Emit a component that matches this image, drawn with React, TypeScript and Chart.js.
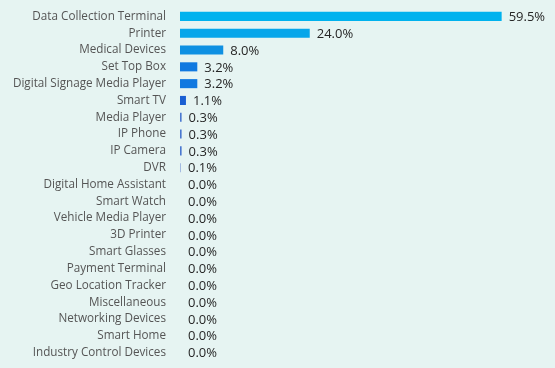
import React, { useEffect, useRef } from "react";
import { Chart, registerables } from "chart.js";

Chart.register(...registerables);

const categories = [
  "Data Collection Terminal",
  "Printer",
  "Medical Devices",
  "Set Top Box",
  "Digital Signage Media Player",
  "Smart TV",
  "Media Player",
  "IP Phone",
  "IP Camera",
  "DVR",
  "Digital Home Assistant",
  "Smart Watch",
  "Vehicle Media Player",
  "3D Printer",
  "Smart Glasses",
  "Payment Terminal",
  "Geo Location Tracker",
  "Miscellaneous",
  "Networking Devices",
  "Smart Home",
  "Industry Control Devices",
];

const shares = [59.5, 24.0, 8.0, 3.2, 3.2, 1.1, 0.3, 0.3, 0.3, 0.1, 0, 0, 0, 0, 0, 0, 0, 0, 0, 0, 0];

const barColors = [
  "#00b2ee", "#07a6ea", "#0f90e2", "#1079e0", "#1079e0", "#1a5fd2",
  "#4a78d0", "#4a78d0", "#4a78d0", "#6a88d0", "#4a78d0", "#4a78d0",
  "#4a78d0", "#4a78d0", "#4a78d0", "#4a78d0", "#4a78d0", "#4a78d0",
  "#4a78d0", "#4a78d0", "#4a78d0",
];

const valueLabels = {
  id: "valueLabels",
  afterDatasetsDraw(chart: any) {
    const ctx = chart.ctx;
    const meta = chart.getDatasetMeta(0);
    ctx.save();
    ctx.font = "13px 'Open Sans'";
    ctx.fillStyle = "#262626";
    ctx.textBaseline = "middle";
    ctx.textAlign = "left";
    meta.data.forEach((bar: any, i: number) => {
      const v = shares[i];
      const x = Math.max(bar.x, chart.chartArea.left + 1) + 7;
      ctx.fillText(v.toFixed(1) + "%", x, bar.y + 1);
    });
    ctx.restore();
  },
};

export default function App() {
  const ref = useRef<HTMLCanvasElement>(null);
  useEffect(() => {
    document.body.style.margin = "0";
    const chart = new Chart(ref.current!, {
      type: "bar",
      data: {
        labels: categories,
        datasets: [
          {
            data: shares,
            backgroundColor: barColors,
            borderWidth: 0,
            categoryPercentage: 1,
            barPercentage: 0.54,
          },
        ],
      },
      options: {
        indexAxis: "y",
        animation: false,
        responsive: false,
        maintainAspectRatio: false,
        layout: { padding: { top: 8, bottom: 7, left: 0, right: 2 } },
        plugins: { legend: { display: false }, tooltip: { enabled: false } },
        scales: {
          x: {
            display: false,
            min: 0,
            max: 69,
          },
          y: {
            grid: { display: false, drawTicks: false },
            border: { display: false },
            ticks: {
              padding: 14,
              color: "#555",
              font: { family: "'Open Sans'", size: 11.7 },
              autoSkip: false,
            },
            afterFit(scale: any) {
              scale.width = 180;
              scale.paddingTop = 0;
              scale.paddingBottom = 0;
            },
          },
        },
      },
      plugins: [valueLabels],
    });
    return () => chart.destroy();
  }, []);
  return (
    <div style={{ width: 555, height: 368, background: "#e6f4f2", position: "relative" }}>
      <canvas ref={ref} width={555} height={368} style={{ display: "block" }} />
    </div>
  );
}
